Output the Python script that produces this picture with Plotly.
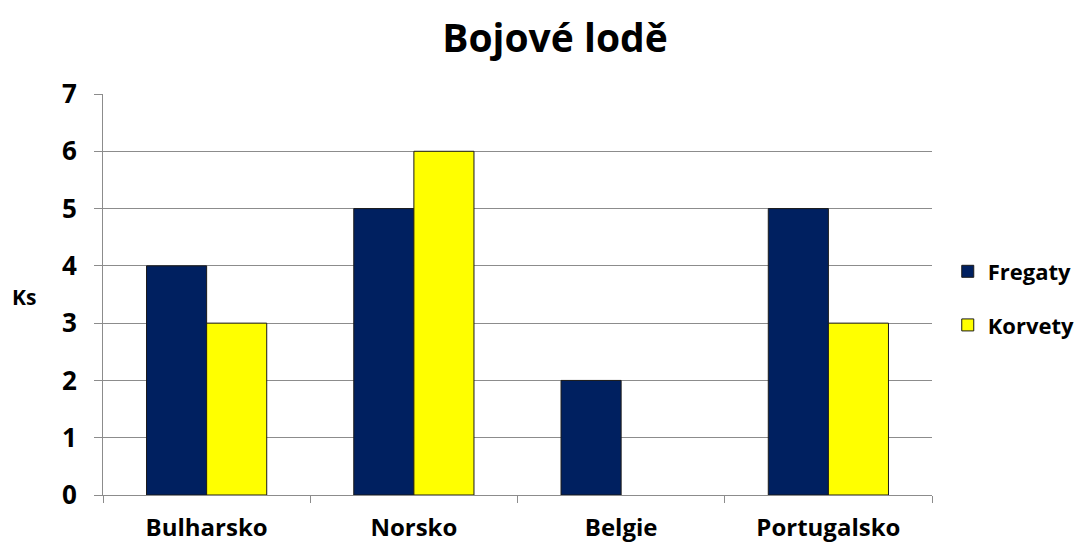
import plotly.graph_objects as go

categories = ["Bulharsko", "Norsko", "Belgie", "Portugalsko"]
fregaty = [4, 5, 2, 5]
korvety = [3, 6, None, 3]
series_names = ["Fregaty", "Korvety"]
title_text = "Bojové lodě"
y_label = "Ks"

FONT = "Open Sans"

fig = go.Figure()
fig.add_trace(go.Bar(x=categories, y=fregaty, name=series_names[0], legendgroup="a",
                     marker=dict(color="#002060", line=dict(color="#1a1a1a", width=1))))
fig.add_trace(go.Bar(x=categories, y=korvety, name=series_names[1], legendgroup="b",
                     marker=dict(color="#FFFF00", line=dict(color="#1a1a1a", width=1))))

# page body adds an 8px offset; margins compensate so plot sits at x 103-935, y 94-497
fig.update_layout(
    width=1084, height=547,
    margin=dict(l=95, r=157, t=86, b=58),
    paper_bgcolor="white", plot_bgcolor="white",
    barmode="group", bargap=0.42, bargroupgap=0,
    title=dict(text=title_text, x=0.5046, xref="container", xanchor="center",
               y=0.944, yref="container", yanchor="middle",
               font=dict(family=FONT, size=39, color="#000000", weight="bold")),
    font=dict(family=FONT, size=21, color="#000000"),
    legend=dict(x=1.019, xanchor="left", y=0.49, yanchor="middle",
                font=dict(family=FONT, size=22, color="#000000", weight="bold"),
                itemwidth=30, traceorder="grouped", tracegroupgap=22),
    showlegend=True,
)
fig.update_xaxes(type="category", showline=True, linecolor="#8c8c8c", linewidth=1,
                 ticks="outside", tickson="boundaries", ticklen=7, tickcolor="#8c8c8c",
                 ticklabelstandoff=11,
                 tickfont=dict(family=FONT, size=24, weight="bold"), showgrid=False)
fig.update_yaxes(range=[0, 7], dtick=1, showline=True, linecolor="#8c8c8c", linewidth=1,
                 ticks="outside", ticklen=8, tickcolor="#8c8c8c",
                 ticklabelstandoff=12,
                 gridcolor="#8c8c8c", gridwidth=1, zeroline=False,
                 tickfont=dict(family=FONT, size=26, weight="bold"))
fig.add_annotation(text=y_label, xref="paper", yref="paper", x=-0.095, y=0.494,
                   xanchor="center", yanchor="middle", showarrow=False,
                   font=dict(family=FONT, size=21, weight="bold"))

fig.write_html("out.html")
